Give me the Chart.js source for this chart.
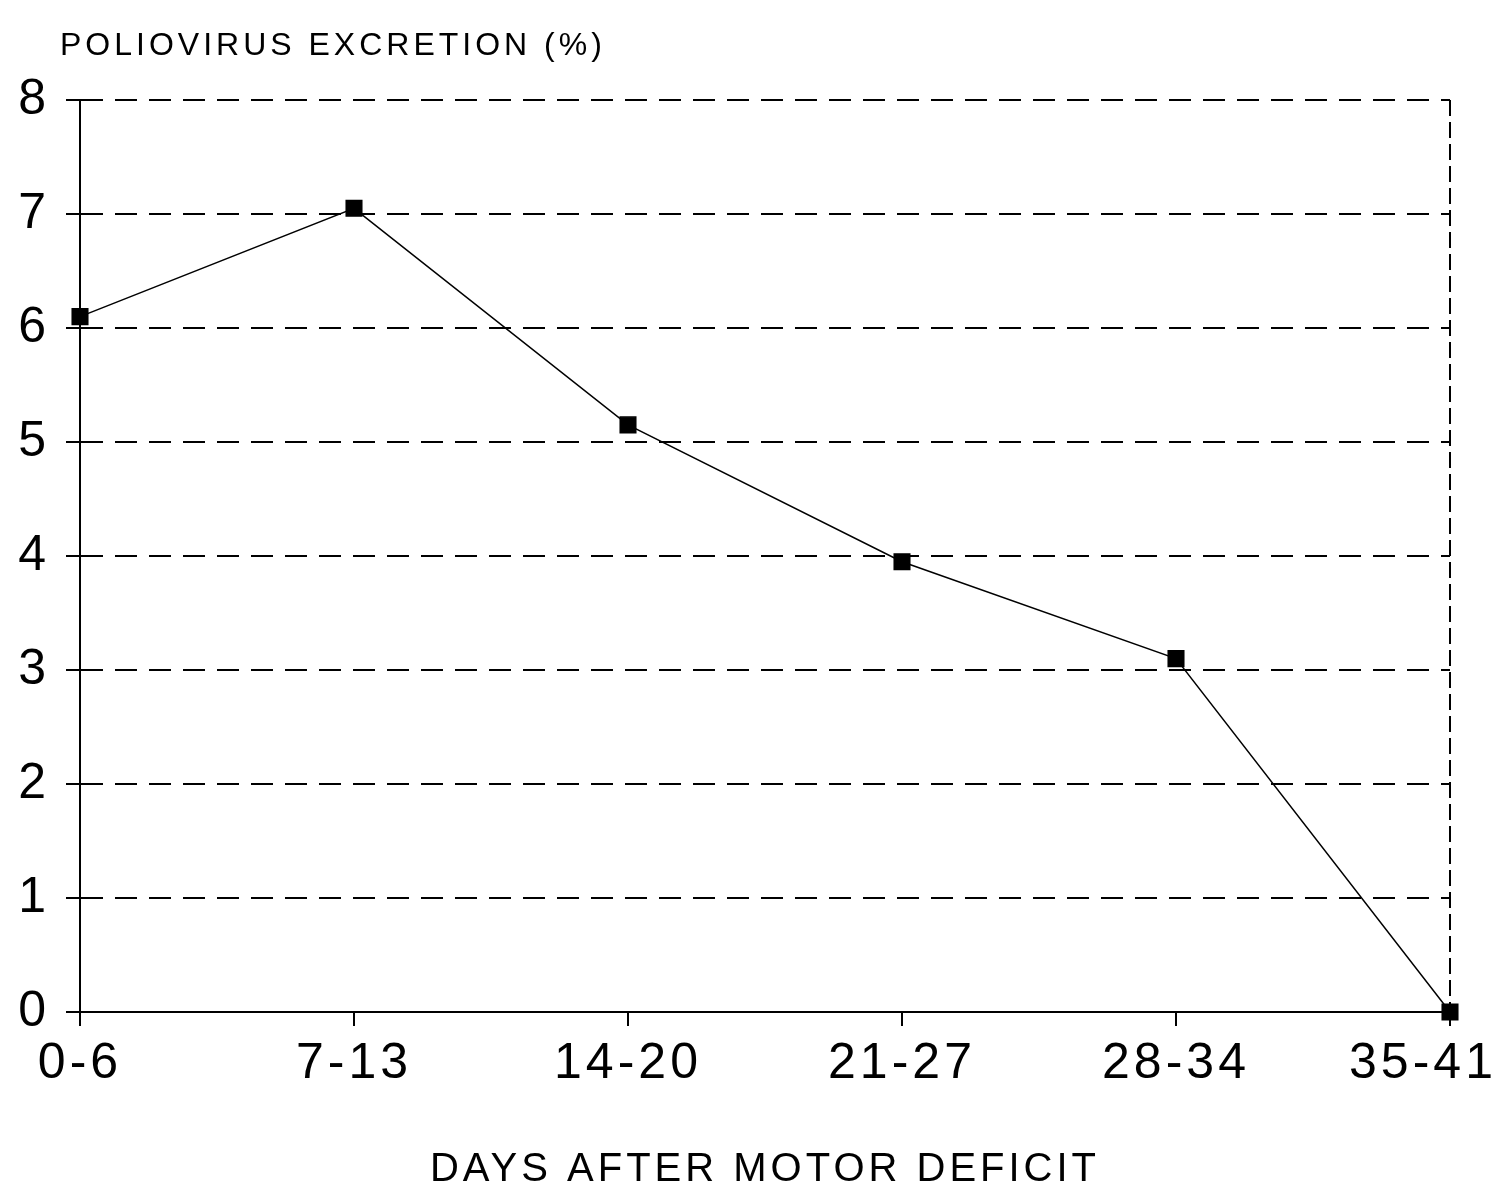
<!DOCTYPE html>
<html>
<head>
<meta charset="utf-8">
<script src="https://cdn.jsdelivr.net/npm/chart.js@4.4.1/dist/chart.umd.min.js"></script>
<style>
  html, body { margin: 0; padding: 0; background: #fff; }
  #wrap { width: 1494px; height: 1194px; }
</style>
</head>
<body>
<div id="wrap"><canvas id="chart"></canvas></div>
<script>
const dayGroups = ['0-6', '7-13', '14-20', '21-27', '28-34', '35-41'];
const excretion = [6.1, 7.05, 5.15, 3.95, 3.1, 0];
const yTicks = [0, 1, 2, 3, 4, 5, 6, 7, 8];
const yTitle = 'POLIOVIRUS EXCRETION (%)';
const xTitle = 'DAYS AFTER MOTOR DEFICIT';

const font = '"Liberation Sans", Arial, sans-serif';

// the scan's lettering is widely spaced
const spacing = {
    id: 'spacing',
    beforeUpdate(chart) { chart.ctx.letterSpacing = '4px'; },
    beforeDraw(chart) { chart.ctx.letterSpacing = '4px'; }
};

// y title sits horizontally above the axis
const topTitle = {
    id: 'topTitle',
    afterDraw(chart) {
        const ctx = chart.ctx;
        ctx.save();
        ctx.font = '32px ' + font;
        ctx.letterSpacing = '4px';
        ctx.fillStyle = '#000';
        ctx.textBaseline = 'middle';
        ctx.textAlign = 'left';
        ctx.fillText(yTitle, chart.chartArea.left - 20, 46);
        ctx.restore();
    }
};

new Chart(document.getElementById('chart'), {
    type: 'line',
    data: {
        labels: dayGroups,
        datasets: [{
            data: excretion,
            borderColor: '#000',
            borderWidth: 1.5,
            pointStyle: 'rect',
            pointRadius: 11,
            pointBackgroundColor: '#000',
            pointBorderColor: '#000',
            tension: 0,
            clip: false
        }]
    },
    options: {
        responsive: true,
        maintainAspectRatio: false,
        animation: false,
        layout: { padding: { top: 100, right: 44, left: 0, bottom: 0 } },
        plugins: {
            legend: { display: false },
            tooltip: { enabled: false }
        },
        scales: {
            x: {
                offset: false,
                afterFit: s => {
                    s.height = 182;
                    s.paddingLeft = 0;
                    s.paddingRight = 0;
                },
                grid: {
                    drawOnChartArea: true,
                    color: c => c.index === dayGroups.length - 1 ? '#000' : 'rgba(0,0,0,0)',
                    lineWidth: 2,
                    tickColor: '#000',
                    tickLength: 14,
                    tickWidth: 2
                },
                border: { display: true, color: '#000', width: 2, dash: [16, 6] },
                ticks: {
                    color: '#000',
                    font: { family: font, size: 50 },
                    padding: 8,
                    maxRotation: 0,
                    autoSkip: false,
                    // last label is pushed left so it stays on the page
                    callback: (v, i) => i === dayGroups.length - 1 ? dayGroups[i] + '\u2003' : dayGroups[i]
                },
                title: {
                    display: true,
                    text: xTitle,
                    color: '#000',
                    font: { family: font, size: 40 },
                    padding: { top: 28, bottom: 0 }
                }
            },
            y: {
                min: 0,
                max: 8,
                afterFit: s => { s.width = 80; },
                afterBuildTicks: s => { s.ticks = yTicks.map(v => ({ value: v })); },
                grid: {
                    color: '#000',
                    lineWidth: 2,
                    tickLength: 14,
                    tickColor: '#000',
                    tickWidth: 2
                },
                border: { display: true, color: '#000', width: 2, dash: [22, 12] },
                ticks: {
                    color: '#000',
                    font: { family: font, size: 50 },
                    padding: 16
                }
            }
        }
    },
    plugins: [spacing, topTitle]
});
</script>
</body>
</html>
